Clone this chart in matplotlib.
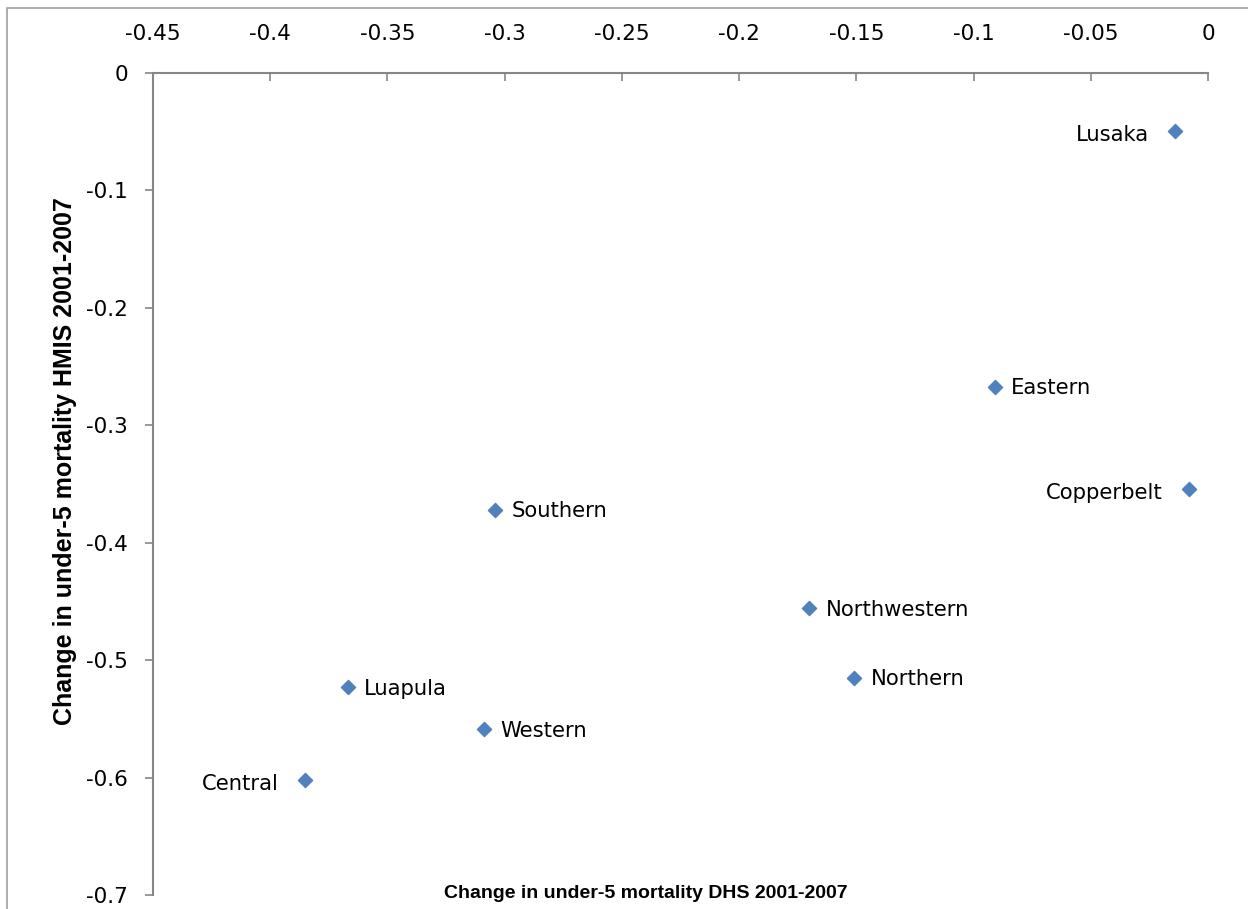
import matplotlib.pyplot as plt
from matplotlib.patches import Rectangle

# change in under-5 mortality, 2001-2007
provinces = ["Lusaka", "Eastern", "Copperbelt", "Southern", "Northwestern",
             "Northern", "Luapula", "Western", "Central"]
dhs_change = [-0.014, -0.091, -0.008, -0.304, -0.170, -0.151, -0.367, -0.309, -0.385]
hmis_change = [-0.049, -0.267, -0.354, -0.372, -0.456, -0.515, -0.523, -0.559, -0.602]
label_side = ["left", "right", "left", "right", "right", "right", "right", "right", "left"]

xticks = [-0.45, -0.4, -0.35, -0.3, -0.25, -0.2, -0.15, -0.1, -0.05, 0]
xticklabels = ["-0.45", "-0.4", "-0.35", "-0.3", "-0.25", "-0.2", "-0.15", "-0.1", "-0.05", "0"]
yticks = [0, -0.1, -0.2, -0.3, -0.4, -0.5, -0.6, -0.7]
yticklabels = ["0", "-0.1", "-0.2", "-0.3", "-0.4", "-0.5", "-0.6", "-0.7"]

plt.rcParams["font.family"] = ["DejaVu Sans"]
axis_grey = "#868686"
title_font = ["Liberation Sans", "DejaVu Sans"]

fig = plt.figure(figsize=(12.48, 9.09), dpi=100)
# chart area border
fig.patches.append(Rectangle((7 / 1248, -0.01), 1.1, 1 - 8 / 909 + 0.01,
                             transform=fig.transFigure, fill=False,
                             edgecolor="#a0a0a0", lw=1.2))

ax = fig.add_axes([153 / 1248, 1 - 895 / 909, (1208 - 153) / 1248, (895 - 73) / 909])
ax.scatter(dhs_change, hmis_change, marker="D", s=52, color="#4F81BD", zorder=3)

for name, x, y, side in zip(provinces, dhs_change, hmis_change, label_side):
    if side == "right":
        ax.annotate(name, (x, y), xytext=(12, -1), textcoords="offset points",
                    ha="left", va="center", fontsize=15.2)
    else:
        ax.annotate(name, (x, y), xytext=(-19, -3), textcoords="offset points",
                    ha="right", va="center", fontsize=15.2)

ax.set_xlim(-0.45, 0)
ax.set_ylim(-0.7, 0)
ax.set_xticks(xticks)
ax.set_xticklabels(xticklabels)
ax.set_yticks(yticks)
ax.set_yticklabels(yticklabels)

ax.xaxis.tick_top()
ax.tick_params(axis="x", direction="in", length=6, width=1.2, color=axis_grey,
               labelsize=15.5, pad=21)
ax.tick_params(axis="y", direction="out", length=6, width=1.2, color=axis_grey,
               labelsize=15.5, pad=12)

for side in ["right", "bottom"]:
    ax.spines[side].set_visible(False)
for side in ["left", "top"]:
    ax.spines[side].set_color(axis_grey)
    ax.spines[side].set_linewidth(1.5)

fig.text(646 / 1248, 1 - 894 / 909, "Change in under-5 mortality DHS 2001-2007",
         ha="center", va="center", fontsize=14, fontweight="bold", family=title_font)
fig.text(65 / 1248, 1 - 461 / 909, "Change in under-5 mortality HMIS 2001-2007",
         ha="center", va="center", rotation=90, fontsize=18, fontweight="bold",
         family=title_font)

fig.savefig("out.png", dpi=100)
